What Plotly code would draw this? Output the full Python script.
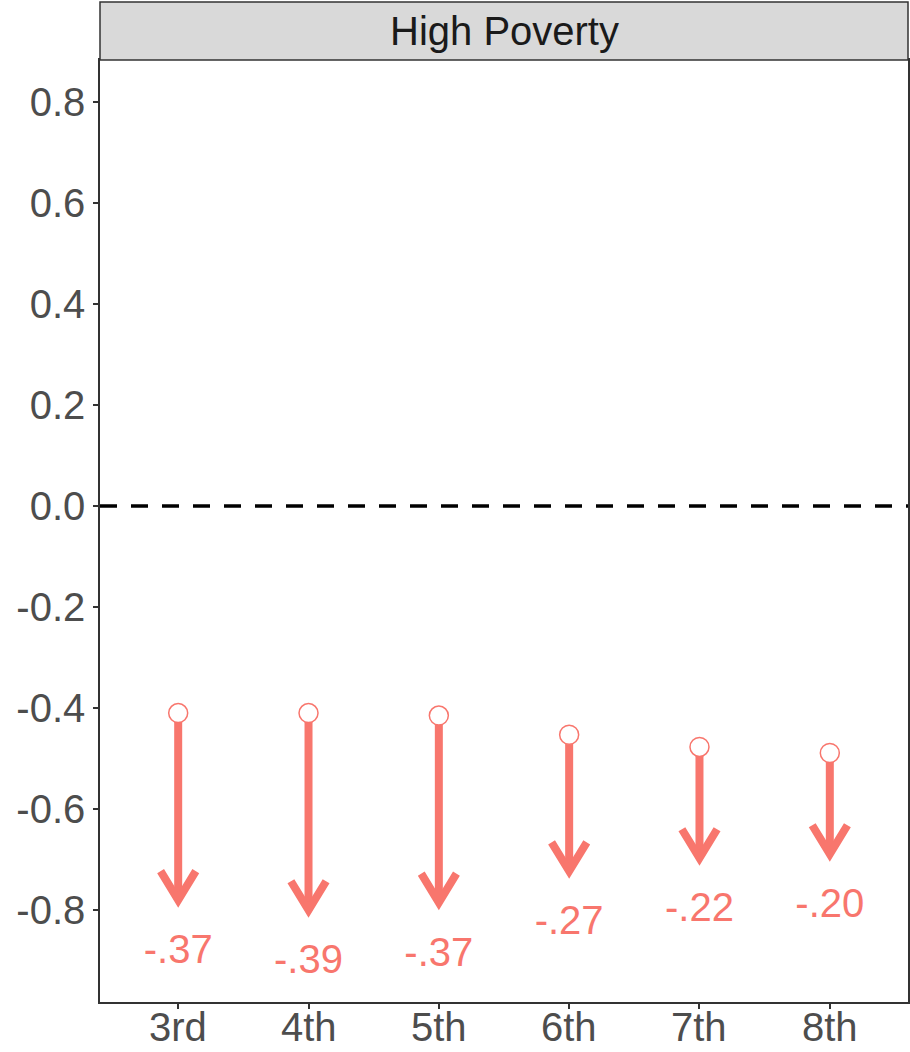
import plotly.graph_objects as go

grades = ["3rd", "4th", "5th", "6th", "7th", "8th"]
start_vals = [-0.41, -0.41, -0.415, -0.453, -0.477, -0.489]
changes = [-0.37, -0.39, -0.37, -0.27, -0.22, -0.20]
labels = ["-.37", "-.39", "-.37", "-.27", "-.22", "-.20"]
y_ticks = [-0.8, -0.6, -0.4, -0.2, 0.0, 0.2, 0.4, 0.6, 0.8]
y_tick_text = ["-0.8", "-0.6", "-0.4", "-0.2", "0.0", "0.2", "0.4", "0.6", "0.8"]

COL = "#F8766D"
FONT = "Liberation Sans, Arial, sans-serif"
FS = 40
xpos = list(range(1, len(grades) + 1))
end_vals = [s + c for s, c in zip(start_vals, changes)]

HEAD_DX = 0.135
HEAD_DY = 0.057
LABEL_OFF = 0.105

fig = go.Figure()

# zero reference line
fig.add_shape(type="line", xref="paper", x0=0, x1=1, yref="y", y0=0, y1=0,
              line=dict(color="black", width=3.5, dash="17px,14px"), layer="below")

for xi, s, e in zip(xpos, start_vals, end_vals):
    fig.add_trace(go.Scatter(x=[xi, xi], y=[s, e], mode="lines",
                             line=dict(color=COL, width=8), hoverinfo="skip", showlegend=False))
    fig.add_trace(go.Scatter(x=[xi - HEAD_DX, xi, xi + HEAD_DX], y=[e + HEAD_DY, e, e + HEAD_DY],
                             mode="lines", line=dict(color=COL, width=8), hoverinfo="skip",
                             showlegend=False))

fig.add_trace(go.Scatter(x=xpos, y=start_vals, mode="markers",
                         marker=dict(size=19, color="white", line=dict(color=COL, width=1.5)),
                         showlegend=False))

fig.add_trace(go.Scatter(x=xpos, y=[e - LABEL_OFF for e in end_vals], mode="text",
                         text=labels, textposition="middle center",
                         textfont=dict(family=FONT, size=FS, color=COL), showlegend=False))

# x tick labels as annotations (closer to the axis, as in the reference)
for xi, g in zip(xpos, grades):
    fig.add_annotation(x=xi, xref="x", y=0, yref="paper", text=g, showarrow=False,
                       yanchor="top", xanchor="center", yshift=-1,
                       font=dict(family=FONT, size=FS, color="#4D4D4D"))

# strip
strip_h = 58 / 942
fig.add_shape(type="rect", xref="paper", yref="paper", x0=0, x1=1, y0=1, y1=1 + strip_h,
              fillcolor="#D9D9D9", line=dict(color="#333333", width=1.5))
fig.add_annotation(xref="paper", yref="paper", x=0.5, y=1 + strip_h / 2, text="High Poverty",
                   showarrow=False, font=dict(family=FONT, size=FS, color="#1A1A1A"),
                   xanchor="center", yanchor="middle")

fig.update_layout(
    width=910, height=1052,
    margin=dict(l=100, r=2, t=60, b=50, autoexpand=False),
    plot_bgcolor="white", paper_bgcolor="white",
    showlegend=False,
    font=dict(family=FONT),
)
fig.update_xaxes(range=[0.4, 6.6], tickmode="array", tickvals=xpos, ticktext=[""] * len(xpos),
                 automargin=False,
                 showgrid=False, zeroline=False, showline=True, linecolor="#333333", linewidth=1.5,
                 mirror=True, ticks="outside", ticklen=5, tickcolor="#333333", tickwidth=1.5)
fig.update_yaxes(range=[-0.982, 0.883], tickmode="array", tickvals=y_ticks, ticktext=y_tick_text,
                 automargin=False,
                 showgrid=False, zeroline=False, showline=True, linecolor="#333333", linewidth=1.5,
                 mirror=True, ticks="outside", ticklen=5, tickcolor="#333333", tickwidth=1.5,
                 tickfont=dict(family=FONT, size=FS, color="#4D4D4D"))

fig.write_html("out.html", config={"displayModeBar": False},
               post_script="document.body.style.margin='0';document.body.style.overflow='hidden';")
